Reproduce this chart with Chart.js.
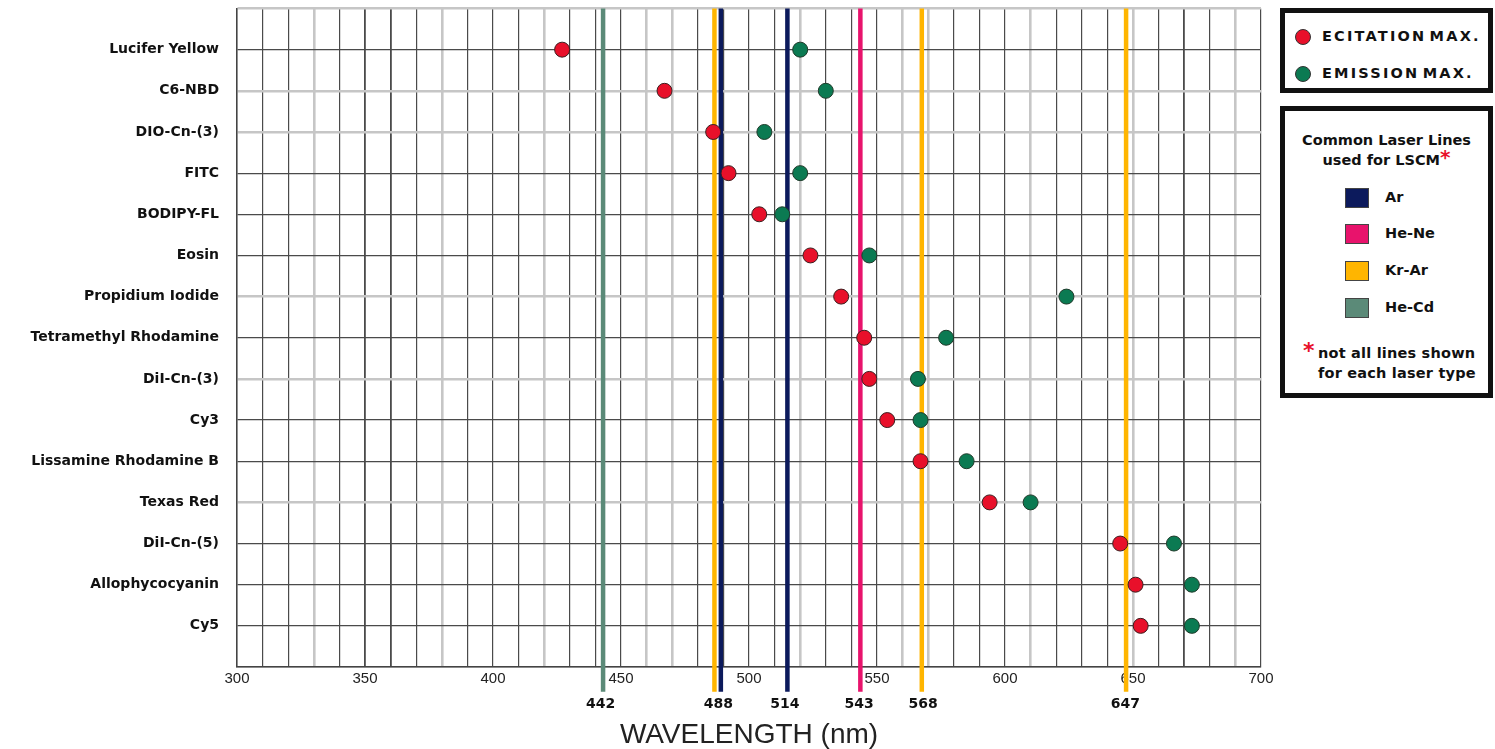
<!DOCTYPE html>
<html>
<head>
<meta charset="utf-8">
<script src="https://cdn.jsdelivr.net/npm/chart.js@4"></script>
<style>
  html, body { margin: 0; padding: 0; background: #fff; }
  #wrap { position: relative; width: 1495px; height: 749px; }
  .box { position: absolute; border: 5px solid #111; box-sizing: border-box; background: #fff;
         font-family: "DejaVu Sans", sans-serif; font-weight: bold; color: #111; }
  .abs { position: absolute; white-space: nowrap; }
  .dot { position: absolute; width: 14px; height: 14px; border-radius: 50%; border: 1px solid #333; }
  .sw { position: absolute; width: 24px; height: 20px; border: 1px solid #444; box-sizing: border-box; }
</style>
</head>
<body>
<div id="wrap">
  <canvas id="myChart" width="1495" height="749"></canvas>

  <div class="box" style="left:1280px; top:8px; width:213px; height:85px;">
    <div class="dot" style="left:10px; top:16px; background:#e8102a;"></div>
    <div class="abs" style="left:37px; top:15px; font-size:14.5px; letter-spacing:2.2px; word-spacing:-4px;">ECITATION MAX.</div>
    <div class="dot" style="left:10px; top:53px; background:#0b7a52;"></div>
    <div class="abs" style="left:37px; top:52px; font-size:14.5px; letter-spacing:2.2px; word-spacing:-4px;">EMISSION MAX.</div>
  </div>

  <div class="box" style="left:1280px; top:106px; width:213px; height:292px;">
    <div class="abs" style="left:0; width:203px; text-align:center; top:19px; font-size:14.5px; line-height:20px;">Common Laser Lines<br>used for LSCM<span style="color:#e8102a; font-size:20px; vertical-align:top; line-height:14px;">*</span></div>
    <div class="sw" style="left:60px; top:77px; background:#0c1a5c;"></div>
    <div class="abs" style="left:100px; top:78px; font-size:14.5px;">Ar</div>
    <div class="sw" style="left:60px; top:113px; background:#e8136c;"></div>
    <div class="abs" style="left:100px; top:114px; font-size:14.5px;">He-Ne</div>
    <div class="sw" style="left:60px; top:150px; background:#ffb500;"></div>
    <div class="abs" style="left:100px; top:151px; font-size:14.5px;">Kr-Ar</div>
    <div class="sw" style="left:60px; top:187px; background:#5b8a78;"></div>
    <div class="abs" style="left:100px; top:188px; font-size:14.5px;">He-Cd</div>
    <div class="abs" style="left:18px; top:229px; font-size:22px; color:#e8102a; line-height:22px;">*</div>
    <div class="abs" style="left:33px; top:232px; font-size:14.5px; line-height:20px; letter-spacing:0.2px;">not all lines shown<br>for each laser type</div>
  </div>
</div>

<script>
// dyes, top to bottom
const dyes = ['Lucifer Yellow', 'C6-NBD', 'DIO-Cn-(3)', 'FITC', 'BODIPY-FL', 'Eosin',
    'Propidium Iodide', 'Tetramethyl Rhodamine', 'DiI-Cn-(3)', 'Cy3',
    'Lissamine Rhodamine B', 'Texas Red', 'DiI-Cn-(5)', 'Allophycocyanin', 'Cy5'];

// wavelengths (nm)
const excitation = [427, 467, 486, 492, 504, 524, 536, 545, 547, 554, 567, 594, 645, 651, 653];
const emission   = [520, 530, 506, 520, 513, 547, 624, 577, 566, 567, 585, 610, 666, 673, 673];

// laser lines as drawn
const arLines   = [489, 515];
const heNeLines = [543.5];
const krArLines = [486.5, 567.5, 647.3];
const heCdLines = [443];

// labels under the axis
const laserTicks = [442, 488, 514, 543, 568, 647];

// look of the grid
const grayX = [330, 380, 420, 460, 470, 520, 560, 570, 610, 650, 690];
const thickX = [350, 360, 670];
const grayY = [-1, 1, 2, 6, 8, 11];

function laserSets(values, color) {
    return values.map(v => ({
        type: 'line',
        data: [{x: v, y: -1}, {x: v, y: 15.6}],
        borderColor: color,
        borderWidth: 4.5,
        pointRadius: 0,
        pointHoverRadius: 0,
        clip: false,
        order: 2
    }));
}

const laserLabels = {
    id: 'laserLabels',
    afterDraw(chart) {
        const ctx = chart.ctx;
        const xs = chart.scales.x;
        ctx.save();
        ctx.font = 'bold 14px "DejaVu Sans"';
        ctx.fillStyle = '#111';
        ctx.textAlign = 'center';
        ctx.textBaseline = 'middle';
        laserTicks.forEach(v => {
            ctx.fillText(String(v), xs.getPixelForValue(v), xs.top + 37);
        });
        ctx.restore();
    }
};

const ctx = document.getElementById('myChart');

const myChart = new Chart(ctx, {
    type: 'scatter',
    data: {
        datasets: [{
            label: 'Excitation max.',
            data: dyes.map((d, i) => ({x: excitation[i], y: i})),
            backgroundColor: '#e8102a',
            borderColor: '#3a2020',
            borderWidth: 1,
            pointRadius: 7.5,
            pointHoverRadius: 7.5,
            order: 0
        }, {
            label: 'Emission max.',
            data: dyes.map((d, i) => ({x: emission[i], y: i})),
            backgroundColor: '#0b7a52',
            borderColor: '#203a2a',
            borderWidth: 1,
            pointRadius: 7.5,
            pointHoverRadius: 7.5,
            order: 0
        },
        ...laserSets(heCdLines, '#5b8a78'),
        ...laserSets(krArLines, '#ffb500'),
        ...laserSets(arLines, '#0c1a5c'),
        ...laserSets(heNeLines, '#e8136c')]
    },
    options: {
        responsive: false,
        animation: false,
        layout: {
            padding: {top: 7, right: 234, bottom: 0, left: 0}
        },
        plugins: {
            legend: {display: false},
            tooltip: {enabled: true}
        },
        scales: {
            x: {
                type: 'linear',
                min: 300,
                max: 700,
                afterFit: s => { s.height = 82; s.paddingLeft = 0; s.paddingRight = 0; },
                border: {display: true, color: '#444', width: 1.5},
                grid: {
                    drawTicks: false,
                    color: c => grayX.includes(c.tick.value) ? '#c6c6c6' : '#4a4a4a',
                    lineWidth: c => grayX.includes(c.tick.value) ? 2.6 : (thickX.includes(c.tick.value) ? 1.8 : 1.2)
                },
                ticks: {
                    stepSize: 10,
                    autoSkip: false,
                    maxRotation: 0,
                    padding: 3,
                    color: '#222',
                    font: {family: '"Liberation Sans", Arial', size: 15},
                    callback: v => v % 50 === 0 ? v : ''
                },
                title: {
                    display: true,
                    text: 'WAVELENGTH (nm)',
                    color: '#222',
                    padding: 0,
                    font: {family: '"Liberation Sans", Arial', size: 28, lineHeight: 1}
                }
            },
            y: {
                type: 'linear',
                reverse: true,
                min: -1,
                max: 15,
                afterFit: s => { s.width = 237; s.paddingTop = 0; s.paddingBottom = 0; },
                border: {display: true, color: '#444', width: 1.5},
                grid: {
                    drawTicks: false,
                    color: c => grayY.includes(c.tick.value) ? '#c6c6c6' : '#4a4a4a',
                    lineWidth: c => grayY.includes(c.tick.value) ? 2.4 : 1.2
                },
                ticks: {
                    stepSize: 1,
                    autoSkip: false,
                    padding: 18,
                    color: '#111',
                    font: {family: '"DejaVu Sans"', size: 14, weight: 'bold'},
                    callback: v => dyes[v] || ''
                }
            }
        }
    },
    plugins: [laserLabels]
});
</script>
</body>
</html>
